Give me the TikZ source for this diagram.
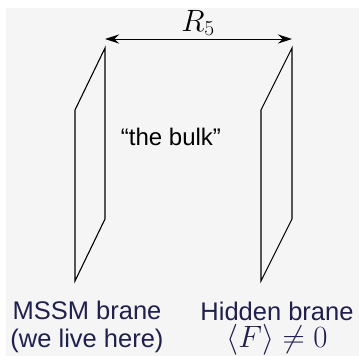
\documentclass[tikz,border=0pt]{standalone}
\usepackage{amsmath,amssymb}
\usepackage{fontspec}
\newfontfamily\labelfont{Liberation Sans}
\usetikzlibrary{arrows.meta,positioning}
\definecolor{bggray}{RGB}{245,245,245}
\definecolor{textnavy}{RGB}{32,32,78}
\newcommand{\bigmath}[1]{\scalebox{1.24}{$#1$}}

\begin{document}
\begin{tikzpicture}[x=1pt,y=-1pt,font=\fontsize{25.5}{28}\selectfont\labelfont]
\useasboundingbox (0,0) rectangle (359,356);
% Background
\fill[bggray] (6,8) rectangle (359,356);
% Branes
\draw[line width=1.1pt] (105,48) coordinate (mssmtop) -- (105,219) -- (75,281) -- (75,110) -- cycle;
\draw[line width=1.1pt] (292,48) coordinate (hiddentop) -- (292,219) -- (261,281) -- (261,110) -- cycle;
% Separation
\coordinate (mssmend) at ([yshift=9pt]mssmtop);
\coordinate (hiddenend) at ([yshift=9pt]hiddentop);
\draw[line width=0.9pt,{Stealth[length=14pt,width=9pt]}-{Stealth[length=14pt,width=9pt]}] (mssmend) -- (hiddenend);
\node (sep) at (198,23) {\bigmath{R_5}};
% Bulk
\node[font=\fontsize{24}{28}\selectfont\labelfont] (bulk) at (171,137) {“the bulk”};
% Labels
\node[textnavy,align=center] (mssm) at (87,327) {MSSM brane\\(we live here)};
\node[textnavy,inner sep=0pt] (hidden) at (277,311) {Hidden brane};
\node[textnavy,inner sep=0pt,below=4pt of hidden] (hiddenvev) {\bigmath{\langle F\rangle\neq 0}};
\end{tikzpicture}
\end{document}
